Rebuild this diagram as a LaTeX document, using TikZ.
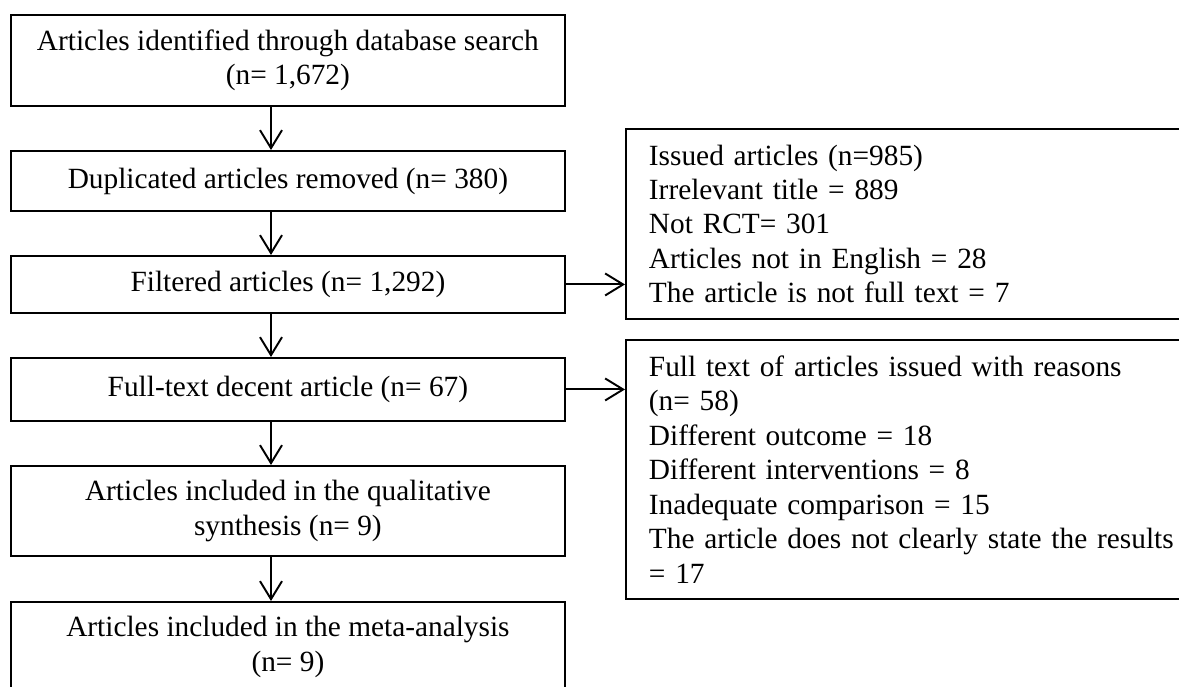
\documentclass[tikz,border=0pt]{standalone}
\usepackage{fontspec}
\setmainfont{Liberation Serif}
\usetikzlibrary{arrows.meta}

\begin{document}
\begin{tikzpicture}[x=0.02cm, y=-0.02cm, line width=1.1pt,
  font=\fontsize{16.7}{19.6}\selectfont,
  box/.style={draw, anchor=north west, minimum width=11.08cm, align=center, inner sep=2pt},
  exclbox/.style={draw, anchor=north west, text width=10.76cm, inner xsep=0.46cm, align=left},
  flow/.style={-{Straight Barb[length=0.36cm,width=0.44cm]}}]
\useasboundingbox (0,0) rectangle (1179,686);

% main column
\node[box, minimum height=1.82cm] (ident) at (10,14) {Articles identified through database search\\(n= 1,672)};
\node[box, minimum height=1.2cm] (dup) at (10,150) {Duplicated articles removed (n= 380)};
\node[box, minimum height=1.14cm] (filt) at (10,255) {Filtered articles (n= 1,292)};
\node[box, minimum height=1.26cm] (fulltext) at (10,357) {Full-text decent article (n= 67)};
\node[box, minimum height=1.8cm] (qual) at (10,465) {Articles included in the qualitative\\synthesis (n= 9)};
\node[box, minimum height=1.8cm] (meta) at (10,601) {Articles included in the meta-analysis\\(n= 9)};

% excluded articles
\node[exclbox, minimum height=3.8cm] (excl) at (625,128) {Issued articles (n=985)\\Irrelevant title = 889\\Not RCT= 301\\Articles not in English = 28\\The article is not full text = 7};
\node[exclbox, minimum height=5.18cm] (reasons) at (625,339) {Full text of articles issued with reasons\\(n= 58)\\Different outcome = 18\\Different interventions = 8\\Inadequate comparison = 15\\The article does not clearly state the results\\= 17};

\coordinate (axis) at (271,0);
\foreach \a/\b in {ident/dup, dup/filt, filt/fulltext, fulltext/qual, qual/meta}
  \draw[flow] (\a.south -| axis) -- (\b.north -| axis);
\draw[flow] (filt.east) -- (filt.east -| excl.west);
\draw[flow] (fulltext.east) -- (fulltext.east -| reasons.west);
\end{tikzpicture}
\end{document}
